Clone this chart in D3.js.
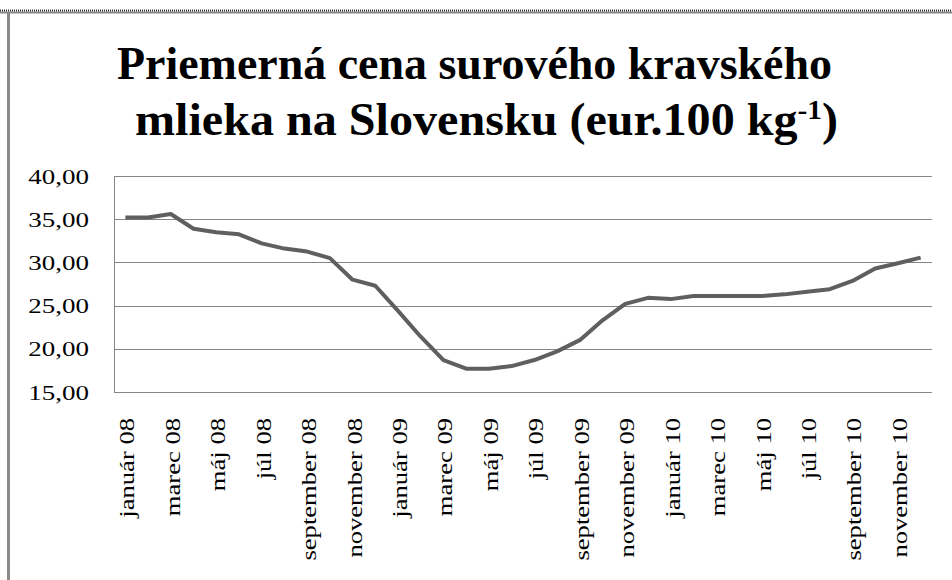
<!DOCTYPE html>
<html>
<head>
<meta charset="utf-8">
<script src="https://cdn.jsdelivr.net/npm/d3@7"></script>
<style>
  html, body { margin: 0; padding: 0; background: #fff; }
  svg { display: block; }
</style>
</head>
<body>
<svg id="chart" width="952" height="580"></svg>
<script>
const titleLine1 = "Priemerná cena surového kravského";
const titleLine2 = "mlieka na Slovensku (eur.100 kg";
const titleSup = "-1";
const titleEnd = ")";

const months = [
  "január 08","február 08","marec 08","apríl 08","máj 08","jún 08",
  "júl 08","august 08","september 08","október 08","november 08","december 08",
  "január 09","február 09","marec 09","apríl 09","máj 09","jún 09",
  "júl 09","august 09","september 09","október 09","november 09","december 09",
  "január 10","február 10","marec 10","apríl 10","máj 10","jún 10",
  "júl 10","august 10","september 10","október 10","november 10","december 10"
];
const prices = [
  35.2, 35.2, 35.6, 33.9, 33.5, 33.25,
  32.2, 31.6, 31.25, 30.5, 28.0, 27.3,
  24.4, 21.4, 18.7, 17.7, 17.7, 18.0,
  18.7, 19.7, 21.0, 23.3, 25.2, 25.9,
  25.75, 26.1, 26.1, 26.1, 26.1, 26.3,
  26.6, 26.9, 27.85, 29.3, 29.9, 30.55
];
const yTicks = [15, 20, 25, 30, 35, 40];

const svg = d3.select("#chart");

// outer frame
svg.append("line").attr("x1", 0).attr("x2", 952).attr("y1", 12.5).attr("y2", 12.5)
  .attr("stroke", "#8a8a8a").attr("stroke-width", 2);
svg.append("line").attr("x1", 0).attr("x2", 952).attr("y1", 10.5).attr("y2", 10.5)
  .attr("stroke", "#333").attr("stroke-width", 2).attr("stroke-dasharray", "1,1");
svg.append("line").attr("x1", 8.5).attr("x2", 8.5).attr("y1", 12).attr("y2", 580)
  .attr("stroke", "#8a8a8a").attr("stroke-width", 3);

// title
svg.append("text")
  .attr("x", 474.5).attr("y", 79)
  .attr("text-anchor", "middle")
  .attr("font-family", "'Liberation Serif', 'Times New Roman', serif")
  .attr("font-weight", "bold").attr("font-size", 46)
  .attr("textLength", 715).attr("lengthAdjust", "spacingAndGlyphs")
  .text(titleLine1);

const t2 = svg.append("text")
  .attr("x", 486.5).attr("y", 135)
  .attr("text-anchor", "middle")
  .attr("font-family", "'Liberation Serif', 'Times New Roman', serif")
  .attr("font-weight", "bold").attr("font-size", 46)
  .attr("textLength", 703).attr("lengthAdjust", "spacingAndGlyphs");
t2.append("tspan").text(titleLine2);
t2.append("tspan").attr("font-size", 28).attr("dy", -16).text(titleSup);
t2.append("tspan").attr("dy", 16).text(titleEnd);

// scales
const plotL = 114, plotR = 932, plotT = 176, plotB = 392;
const x = d3.scalePoint().domain(months).range([plotL, plotR]).padding(0.5);
const y = d3.scaleLinear().domain([15, 40]).range([plotB, plotT]);

// gridlines
svg.append("g").selectAll("line").data(yTicks).join("line")
  .attr("x1", plotL).attr("x2", plotR)
  .attr("y1", d => Math.round(y(d)) + 0.5).attr("y2", d => Math.round(y(d)) + 0.5)
  .attr("stroke", "#868686").attr("stroke-width", 1);

// value axis line
svg.append("line").attr("x1", plotL + 0.5).attr("x2", plotL + 0.5)
  .attr("y1", plotT).attr("y2", plotB + 1)
  .attr("stroke", "#868686").attr("stroke-width", 1);

// y axis labels
const yAxis = d3.axisLeft(y).tickValues(yTicks)
  .tickFormat(d => d3.format(".2f")(d).replace(".", ","))
  .tickSize(0).tickPadding(0);
const yg = svg.append("g").attr("transform", "translate(89,0)").call(yAxis);
yg.select(".domain").remove();
yg.selectAll("text")
  .attr("font-family", "'Liberation Serif', 'Times New Roman', serif")
  .attr("font-size", 20).attr("fill", "#000").attr("dy", "0.35em")
  .each(function() {
    const len = this.getComputedTextLength();
    d3.select(this).attr("textLength", len * 1.35).attr("lengthAdjust", "spacingAndGlyphs");
  });

// x axis labels
const xAxis = d3.axisBottom(x)
  .tickValues(months.filter((m, i) => i % 2 === 0))
  .tickSize(0).tickPadding(0);
const xg = svg.append("g").attr("transform", "translate(0,418)").call(xAxis);
xg.select(".domain").remove();
xg.selectAll("text")
  .attr("font-family", "'Liberation Serif', 'Times New Roman', serif")
  .attr("font-size", 20).attr("fill", "#000")
  .attr("text-anchor", "end")
  .attr("transform", "rotate(-90)")
  .attr("x", 0).attr("y", 0).attr("dy", "0.35em")
  .each(function() {
    const len = this.getComputedTextLength();
    d3.select(this).attr("textLength", len * 1.33).attr("lengthAdjust", "spacingAndGlyphs");
  });
xg.selectAll(".tick").attr("transform", d => `translate(${x(d) + 2},0)`);

// line
const line = d3.line().x((d, i) => x(months[i])).y(d => y(d));
svg.append("path").datum(prices)
  .attr("d", line)
  .attr("fill", "none")
  .attr("stroke", "#5f5f5f")
  .attr("stroke-width", 4)
  .attr("stroke-linejoin", "round");
</script>
</body>
</html>
